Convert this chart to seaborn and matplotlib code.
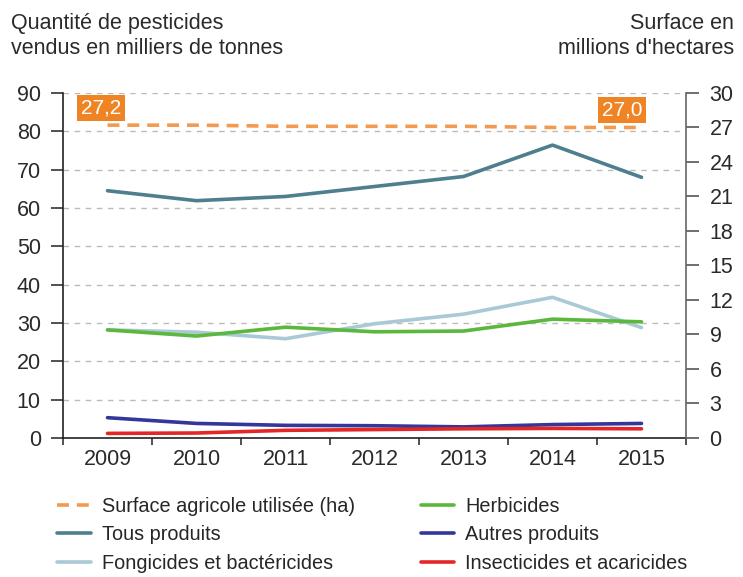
import pandas as pd
import matplotlib.pyplot as plt
import seaborn as sns
from matplotlib.ticker import FixedLocator, NullFormatter

# --- Données ---
annees = [2009, 2010, 2011, 2012, 2013, 2014, 2015]
surface = [27.2, 27.2, 27.1, 27.1, 27.1, 27.0, 27.0]
tous_produits = [64.5, 61.9, 63.0, 65.6, 68.2, 76.4, 68.0]
fongicides = [28.2, 27.6, 25.9, 29.8, 32.3, 36.7, 28.8]
herbicides = [28.2, 26.6, 28.9, 27.7, 27.9, 31.0, 30.3]
autres = [5.3, 3.8, 3.3, 3.2, 2.9, 3.5, 3.8]
insecticides = [1.2, 1.3, 2.0, 2.2, 2.4, 2.5, 2.4]

series = [
    ("Tous produits", tous_produits, "#4e7f8e"),
    ("Fongicides et bactéricides", fongicides, "#a9c9d6"),
    ("Herbicides", herbicides, "#5cb83c"),
    ("Autres produits", autres, "#34369a"),
    ("Insecticides et acaricides", insecticides, "#e32626"),
]
orange = "#ef8424"

sns.set_style("white")
plt.rcParams['font.family'] = ['Liberation Sans', 'DejaVu Sans']
txt = '#2a2a2a'

fig = plt.figure(figsize=(7.43, 5.77), dpi=100)
ax = fig.add_axes([0.0848, 0.2409, 0.8385, 0.598])
ax2 = ax.twinx()

handles = {}
for nom, vals, col in series:
    sns.lineplot(x=annees, y=vals, ax=ax, color=col, linewidth=2.6, label=nom, legend=False)
    handles[nom] = ax.lines[-1]

sns.lineplot(x=annees, y=surface, ax=ax2, color="#f39a50", linewidth=2.6,
             linestyle=(0, (3.3, 2.2)), legend=False)
handles["Surface agricole utilisée (ha)"] = ax2.lines[-1]

# axes
ax.set_xlim(2008.5, 2015.5)
ax.set_ylim(0, 90)
ax2.set_ylim(0, 30)
ax.set_yticks(range(0, 91, 10))
ax2.set_yticks(range(0, 31, 3))

# ticks de x entre les années, libellés sur les années
ax.xaxis.set_major_locator(FixedLocator([a + 0.5 for a in range(2008, 2016)]))
ax.xaxis.set_major_formatter(NullFormatter())
ax.xaxis.set_minor_locator(FixedLocator(annees))
ax.set_xticklabels([str(a) for a in annees], minor=True)
ax.tick_params(axis='x', which='major', direction='out', length=5, width=1.2, color='#333333', bottom=True)
ax.tick_params(axis='x', which='minor', length=0, labelsize=15.5, pad=8, colors=txt)
ax.tick_params(axis='y', direction='out', length=9, width=1.2, color='#333333', left=True,
               labelsize=15.5, colors=txt, pad=7)
ax2.tick_params(axis='y', direction='out', length=9, width=1.2, color='#555555', right=True,
                labelsize=15.5, colors=txt, pad=8)

ax.grid(axis='y', linestyle=(0, (4, 4)), color='#bbbbbb', linewidth=1)
for a in (ax, ax2):
    a.spines['top'].set_visible(False)
ax2.spines['left'].set_visible(False)
ax2.spines['bottom'].set_visible(False)
ax.spines['left'].set_color('#222222')
ax.spines['bottom'].set_color('#222222')
ax.spines['left'].set_linewidth(1.2)
ax.spines['bottom'].set_linewidth(1.2)
ax2.spines['right'].set_color('#666666')
ax2.spines['right'].set_linewidth(1.2)
ax.spines['right'].set_visible(False)

# étiquettes de la surface
for x, v, dx in [(annees[0], surface[0], -4.5), (annees[-1], surface[-1], -14)]:
    ax2.annotate(f"{v:.1f}".replace('.', ','), xy=(x, v), xytext=(dx, 12.5),
                 textcoords='offset points', ha='center', va='center',
                 fontsize=15, color='white',
                 bbox=dict(boxstyle='square,pad=0.18', fc=orange, ec='none'))

# titres des axes
fig.text(0.015, 0.978, "Quantité de pesticides\nvendus en milliers de tonnes",
         ha='left', va='top', fontsize=15.5, color=txt, linespacing=1.3)
fig.text(0.988, 0.978, "Surface en\nmillions d'hectares",
         ha='right', va='top', fontsize=15.5, color=txt, linespacing=1.3)

ordre = ["Surface agricole utilisée (ha)", "Tous produits", "Fongicides et bactéricides",
         "Herbicides", "Autres produits", "Insecticides et acaricides"]
fig.legend([handles[n] for n in ordre], ordre, ncol=2, loc='upper left',
           bbox_to_anchor=(0.077, 0.139), frameon=False, fontsize=14.3,
           handlelength=1.7, columnspacing=3.3, labelspacing=0.48, handletextpad=0.55,
           borderaxespad=0, borderpad=0)

fig.savefig("out.png", dpi=100)
